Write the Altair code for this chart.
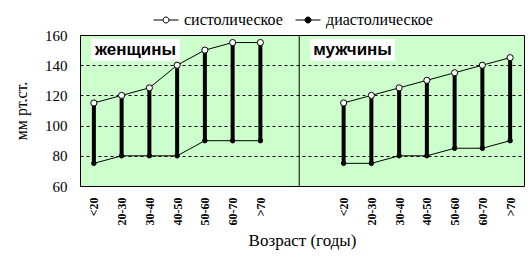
import json
import altair as alt
import pandas as pd

ages = ["<20", "20-30", "30-40", "40-50", "50-60", "60-70", ">70"]
groups = ["женщины", "мужчины"]
series = ["систолическое", "диастолическое"]
women_sys = [115, 120, 125, 140, 150, 155, 155]
women_dia = [75, 80, 80, 80, 90, 90, 90]
men_sys = [115, 120, 125, 130, 135, 140, 145]
men_dia = [75, 75, 80, 80, 85, 85, 90]
group_offset = [0, 9]  # two empty category slots between the panels

rows, bars = [], []
for g, off, s_vals, d_vals in zip(groups, group_offset, [women_sys, men_sys], [women_dia, men_dia]):
    for i, a in enumerate(ages):
        pos = off + i + 0.5
        bars.append(dict(group=g, age=a, pos=pos, sys=s_vals[i], dia=d_vals[i]))
        rows.append(dict(group=g, age=a, pos=pos, series=series[0], value=s_vals[i]))
        rows.append(dict(group=g, age=a, pos=pos, series=series[1], value=d_vals[i]))
long_df = pd.DataFrame(rows)
bar_df = pd.DataFrame(bars)

tick_vals = [r["pos"] for r in bars]
label_expr = json.dumps(ages) + "[floor(datum.value) % 9]"
y_ticks = [60, 80, 100, 120, 140, 160]

SERIF = "Liberation Serif, Times New Roman, serif"

x_scale = alt.Scale(domain=[0, 16], nice=False, zero=False)
y_scale = alt.Scale(domain=[60, 160], nice=False, zero=False)

x_axis = alt.Axis(values=tick_vals, tickCount=len(tick_vals) + 2, labelExpr=label_expr,
                  title="Возраст (годы)",
                  grid=False, ticks=False, domain=False, labelAngle=-90, labelOverlap=False,
                  labelFont=SERIF, labelFontWeight="bold", labelFontSize=12,
                  labelColor="black", labelPadding=11,
                  titleFont=SERIF, titleFontSize=17, titleFontWeight="normal",
                  titleColor="black", titlePadding=8)
y_axis = alt.Axis(values=y_ticks, tickCount=len(y_ticks) + 1, title="мм рт.ст.",
                  grid=True, gridDash=[3, 3], gridColor="black", gridWidth=1, gridOpacity=1,
                  ticks=False, domain=False, labelOverlap=False, labelFlush=False,
                  labelFont=SERIF, labelFontSize=15, labelColor="black", labelPadding=13,
                  titleFont=SERIF, titleFontSize=16, titleFontWeight="normal",
                  titleColor="black", titlePadding=15)

PATH = ("M-1,0L-0.24,0M0.24,0L1,0"
        "M0.24,0A0.24,0.24,0,1,1,-0.24,0A0.24,0.24,0,1,1,0.24,0Z")

fill_enc = alt.Fill(
    "series:N",
    scale=alt.Scale(domain=series, range=["white", "black"]),
    legend=alt.Legend(orient="none", legendX=73, legendY=-28, direction="horizontal",
                      title=None, symbolType=PATH, symbolSize=625,
                      symbolStrokeColor="black", symbolStrokeWidth=1,
                      labelFont=SERIF, labelFontSize=16,
                      labelColor="black", columnPadding=10, labelOffset=5),
)

bars_layer = alt.Chart(bar_df).mark_rule(color="black", strokeWidth=4).encode(
    x=alt.X("pos:Q", scale=x_scale, axis=x_axis),
    y=alt.Y("dia:Q", scale=y_scale, axis=y_axis),
    y2="sys:Q",
)

lines_layer = alt.Chart(long_df).mark_line(color="black", strokeWidth=1).encode(
    x=alt.X("pos:Q", scale=x_scale, axis=x_axis),
    y=alt.Y("value:Q", scale=y_scale, axis=y_axis),
    detail=alt.Detail(["group:N", "series:N"]),
)

sys_points = alt.Chart(long_df).transform_filter(
    alt.datum.series == series[0]
).mark_point(filled=True, stroke="black", strokeWidth=1, size=38, opacity=1).encode(
    x=alt.X("pos:Q", scale=x_scale, axis=x_axis),
    y=alt.Y("value:Q", scale=y_scale, axis=y_axis),
    fill=fill_enc,
)
dia_points = alt.Chart(long_df).transform_filter(
    alt.datum.series == series[1]
).mark_point(filled=True, stroke="black", strokeWidth=1, size=20, opacity=1).encode(
    x=alt.X("pos:Q", scale=x_scale, axis=x_axis),
    y=alt.Y("value:Q", scale=y_scale, axis=y_axis),
    fill=fill_enc,
)

divider = alt.Chart(pd.DataFrame({"pos": [7.9]})).mark_rule(color="black", strokeWidth=1).encode(
    x=alt.X("pos:Q", scale=x_scale, axis=x_axis)
)

ann_df = pd.DataFrame({
    "label": groups,
    "x0": [0.4, 8.3],
    "x1": [3.6, 11.35],
    "xc": [2.0, 9.82],
})
ann_box = alt.Chart(ann_df).mark_rect(color="white").encode(
    x=alt.X("x0:Q", scale=x_scale, axis=x_axis), x2="x1:Q",
    y=alt.datum(142.8), y2=alt.datum(157.4),
)
ann_text = alt.Chart(ann_df).mark_text(font="Liberation Sans", fontWeight="bold", fontSize=17,
                                       color="black", baseline="middle", align="center").encode(
    x=alt.X("xc:Q", scale=x_scale, axis=x_axis), y=alt.datum(150.3), text="label:N",
)

chart = alt.layer(ann_box, ann_text, divider, bars_layer, lines_layer, sys_points, dia_points).properties(
    width=444, height=151,
    autosize=alt.AutoSizeParams(type="none"),
    padding={"left": 80, "top": 35, "right": 4, "bottom": 78},
    background="white",
).configure_view(
    fill="#CCFFCC", stroke="black", strokeWidth=1
).configure_axis(
    labelOverlap=False
).configure_legend(
    labelFont=SERIF, labelFontSize=16, labelColor="black"
)

chart.save("out.html", embed_options={"renderer": "svg", "actions": False})
